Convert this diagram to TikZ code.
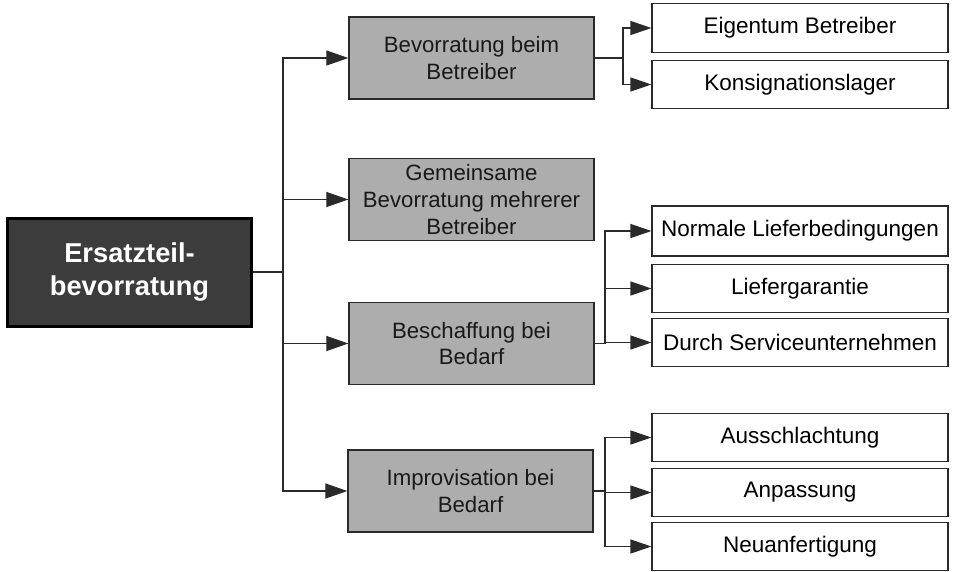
\documentclass[tikz,border=0pt]{standalone}
\usepackage{fontspec}
\setmainfont{Liberation Sans}
\usetikzlibrary{arrows.meta}
\definecolor{rootfill}{HTML}{3C3C3C}
\definecolor{midfill}{HTML}{ADADAD}
\definecolor{linec}{HTML}{2A2A2A}
\tikzset{
  rootbox/.style={draw=black, line width=3pt, fill=rootfill, text=white, inner sep=0pt,
    minimum width=244pt, minimum height=108pt, align=center,
    font=\fontsize{27.3}{32.5}\selectfont\bfseries},
  midbox/.style={draw=linec, line width=1.3pt, fill=midfill, text=black!90, inner sep=0pt,
    minimum width=245pt, minimum height=82pt, align=center,
    font=\fontsize{22.2}{26.6}\selectfont},
  leafbox/.style={draw=linec, line width=1.1pt, fill=white, text=black, inner sep=0pt,
    minimum width=296pt, minimum height=48.5pt, align=center,
    font=\fontsize{22.5}{27}\selectfont},
  conn/.style={draw=linec, line width=1.2pt},
  arr/.style={conn, -{Triangle[length=22pt,width=15pt]}},
  larr/.style={conn, -{Triangle[length=21pt,width=14pt]}},
}
\begin{document}
\begin{tikzpicture}[x=1pt,y=-1pt]
\useasboundingbox (0,0) rectangle (954,571);
% root
\node[rootbox] (root) at (129.5,272) {Ersatzteil-\\bevorratung};
% middle
\node[midbox] (bev) at (471.5,58) {Bevorratung beim\\Betreiber};
\node[midbox] (gem) at (471.5,199.5) {Gemeinsame\\Bevorratung mehrerer\\Betreiber};
\node[midbox] (besch) at (471.5,343.5) {Beschaffung bei\\Bedarf};
\node[midbox] (impr) at (470.5,491) {Improvisation bei\\Bedarf};
% leaves
\node[leafbox] (eig) at (800,28) {Eigentum Betreiber};
\node[leafbox] (kons) at (800,84.5) {Konsignationslager};
\node[leafbox, minimum height=50pt] (norm) at (800,231) {Normale Lieferbedingungen};
\node[leafbox] (lief) at (800,288.5) {Liefergarantie};
\node[leafbox] (durch) at (800,342.5) {Durch Serviceunternehmen};
\node[leafbox] (aus) at (800,437.5) {Ausschlachtung};
\node[leafbox] (anp) at (800,492.5) {Anpassung};
\node[leafbox] (neu) at (800,546.5) {Neuanfertigung};
% bus from root
\coordinate (bus) at (283,272);
\draw[conn] (root.east) -- (bus);
\foreach \m in {bev,gem,besch,impr} \draw[arr] (bus) |- (\m.west);
% branches
\coordinate (b1) at (623,58);
\draw[conn] (bev.east) -- (b1);
\draw[larr] (b1) |- (eig.west);
\draw[larr] (b1) |- (kons.west);
\coordinate (b2) at (605,343.5);
\draw[conn] (besch.east) -- (b2);
\foreach \m in {norm,lief,durch} \draw[larr] (b2) |- (\m.west);
\coordinate (b3) at (605,491);
\draw[conn] (impr.east) -- (b3);
\foreach \m in {aus,anp,neu} \draw[larr] (b3) |- (\m.west);
\end{tikzpicture}
\end{document}
